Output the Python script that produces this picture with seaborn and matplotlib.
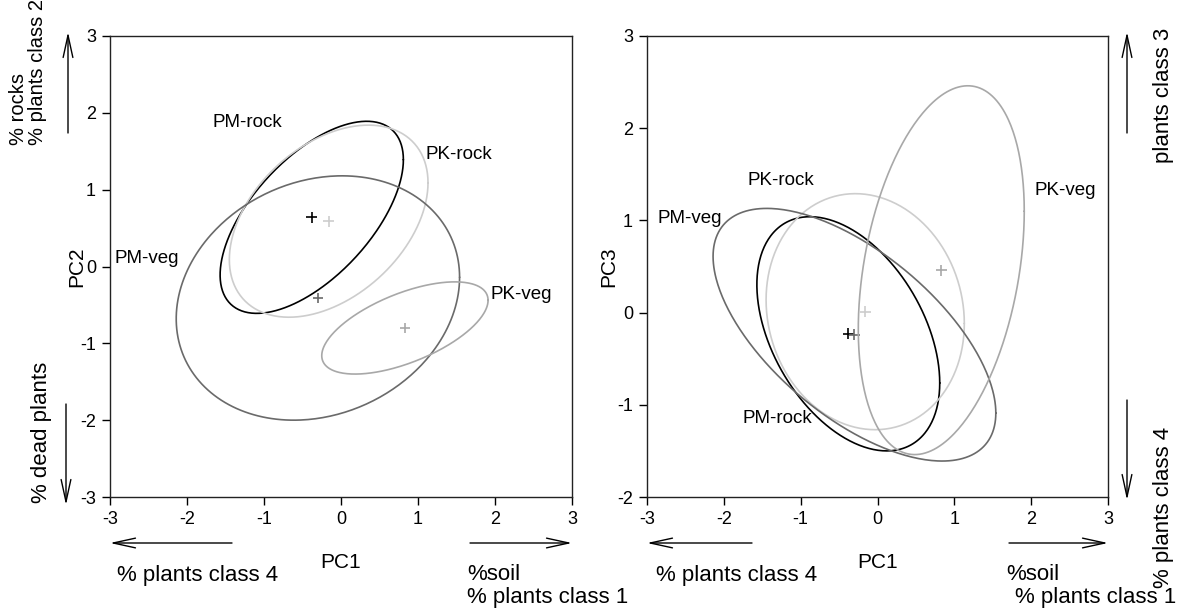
import numpy as np
import pandas as pd
import matplotlib
matplotlib.use("Agg")
import matplotlib.pyplot as plt
import seaborn as sns
from matplotlib.patches import FancyArrowPatch

# ---------------- data ----------------
groups = ["PM-rock", "PK-rock", "PM-veg", "PK-veg"]
palette = {"PM-rock": "#000000", "PK-rock": "#cdcdcd", "PM-veg": "#6a6a6a", "PK-veg": "#a8a8a8"}

pc1_center = [-0.38, -0.16, -0.30, 0.83]
pc2_center = [0.64, 0.59, -0.41, -0.80]
pc3_center = [-0.23, 0.01, -0.24, 0.46]
pc1_sd = [1.19, 1.29, 1.84, 1.08]
pc2_sd = [1.25, 1.25, 1.59, 0.60]
pc3_sd = [1.27, 1.28, 1.37, 2.00]
r12 = [0.60, 0.40, 0.17, 0.60]
r13 = [-0.42, -0.10, -0.62, 0.32]

# label positions (data coords)
lab12_x = [-1.22, 1.53, -2.52, 2.34]
lab12_y = [1.87, 1.46, 0.10, -0.36]
lab13_x = [-1.30, -1.26, -2.44, 2.44]
lab13_y = [-1.15, 1.43, 1.02, 1.32]

xticks = [-3, -2, -1, 0, 1, 2, 3]
yticks12 = [-3, -2, -1, 0, 1, 2, 3]
yticks13 = [-2, -1, 0, 1, 2, 3]


def ellipse_frame(cx, cy, sx, sy, r):
    t = np.linspace(0, 2 * np.pi, 361)
    rows = []
    for g, a, b, c, d, rr in zip(groups, cx, cy, sx, sy, r):
        x = a + c * np.cos(t)
        y = b + d * (rr * np.cos(t) + np.sqrt(1 - rr ** 2) * np.sin(t))
        rows.append(pd.DataFrame({"x": x, "y": y, "group": g}))
    return pd.concat(rows, ignore_index=True)


sns.set_theme(style="white")
plt.rcParams["font.family"] = ["Liberation Sans", "DejaVu Sans"]
plt.rcParams["axes.unicode_minus"] = False
plt.rcParams["text.color"] = "black"
plt.rcParams["axes.labelcolor"] = "black"
plt.rcParams["xtick.color"] = "black"
plt.rcParams["ytick.color"] = "black"

W, H = 1187, 608
fig = plt.figure(figsize=(W / 100, H / 100), dpi=100)


def ax_rect(x0, y0, x1, y1):
    return [x0 / W, 1 - y1 / H, (x1 - x0) / W, (y1 - y0) / H]


ax1 = fig.add_axes(ax_rect(110, 36, 572, 497))
ax2 = fig.add_axes(ax_rect(647, 36, 1108, 497))

centers_y = [pc2_center, pc3_center]
sds_y = [pc2_sd, pc3_sd]
rs = [r12, r13]
labs = [(lab12_x, lab12_y), (lab13_x, lab13_y)]

for k, ax in enumerate([ax1, ax2]):
    df = ellipse_frame(pc1_center, centers_y[k], pc1_sd, sds_y[k], rs[k])
    sns.lineplot(data=df, x="x", y="y", hue="group", palette=palette, sort=False,
                 estimator=None, legend=False, ax=ax, linewidth=1.2)
    cdf = pd.DataFrame({"x": pc1_center, "y": centers_y[k], "group": groups})
    sns.scatterplot(data=cdf, x="x", y="y", hue="group", palette=palette, marker="+",
                    s=60, linewidth=1.2, legend=False, ax=ax)
    for g, lx, ly in zip(groups, labs[k][0], labs[k][1]):
        ax.text(lx, ly, g, fontsize=13.5, ha="center", va="center", color="black")
    ax.set_xlim(-3, 3)
    ax.set_xticks(xticks)
    ax.set_xticklabels([str(v) for v in xticks])
    for s in ax.spines.values():
        s.set_visible(True)
        s.set_color("#222222")
        s.set_linewidth(1.0)
    ax.tick_params(direction="out", length=6, width=1, labelsize=13, colors="black",
                   bottom=True, left=True, top=False, right=False, pad=4)
    ax.set_facecolor("white")

ax1.set_ylim(-3, 3)
ax1.set_yticks(yticks12)
ax1.set_yticklabels([str(v) for v in yticks12])
ax2.set_ylim(-2, 3)
ax2.set_yticks(yticks13)
ax2.set_yticklabels([str(v) for v in yticks13])

ax1.set_xlabel("PC1", fontsize=15)
ax1.set_ylabel("PC2", fontsize=15)
ax2.set_xlabel("PC1", fontsize=15)
ax2.set_ylabel("PC3", fontsize=15)
for ax in (ax1, ax2):
    ax.xaxis.label.set_va("center")
    ax.yaxis.label.set_va("center")
    ax.xaxis.set_label_coords(0.5, -(563 - 497) / 461)
ax1.yaxis.set_label_coords(-(110 - 77) / 462, 0.5)
ax2.yaxis.set_label_coords(-(647 - 609) / 461, 0.5)


def fx(x):
    return x / W


def fy(y):
    return 1 - y / H


def arrow(x0, y0, x1, y1):
    a = FancyArrowPatch((fx(x0), fy(y0)), (fx(x1), fy(y1)), transform=fig.transFigure,
                        arrowstyle="->,head_length=1.6,head_width=0.35", mutation_scale=10,
                        color="black", linewidth=1.0, shrinkA=0, shrinkB=0)
    fig.patches.append(a)


TS = 16
# left panel annotations
arrow(68, 133, 68, 32)
fig.text(fx(28), fy(145), "% rocks\n% plants class 2", rotation=90, ha="center", va="bottom",
         multialignment="left", fontsize=14.5, linespacing=1.05)
arrow(66, 404, 66, 505)
fig.text(fx(42), fy(503), "% dead plants", rotation=90, ha="center", va="bottom", fontsize=TS)
arrow(232, 543, 110, 543)
fig.text(fx(117), fy(575), "% plants class 4", ha="left", va="center", fontsize=TS)
arrow(470, 543, 572, 543)
fig.text(fx(467), fy(575), "%soil", ha="left", va="center", fontsize=TS)
fig.text(fx(467), fy(598), "% plants class 1", ha="left", va="center", fontsize=TS)

# right panel annotations
arrow(752, 543, 647, 543)
fig.text(fx(656), fy(575), "% plants class 4", ha="left", va="center", fontsize=TS)
arrow(1009, 543, 1108, 543)
fig.text(fx(1006), fy(575), "%soil", ha="left", va="center", fontsize=TS)
fig.text(fx(1015), fy(598), "% plants class 1", ha="left", va="center", fontsize=TS)
arrow(1127, 133, 1127, 32)
fig.text(fx(1163), fy(28), "plants class 3", rotation=90, ha="center", va="top", fontsize=TS)
arrow(1127, 400, 1127, 500)
fig.text(fx(1163), fy(588), "% plants class 4", rotation=90, ha="center", va="bottom", fontsize=TS)

fig.savefig("out.png", dpi=100, facecolor="white")
